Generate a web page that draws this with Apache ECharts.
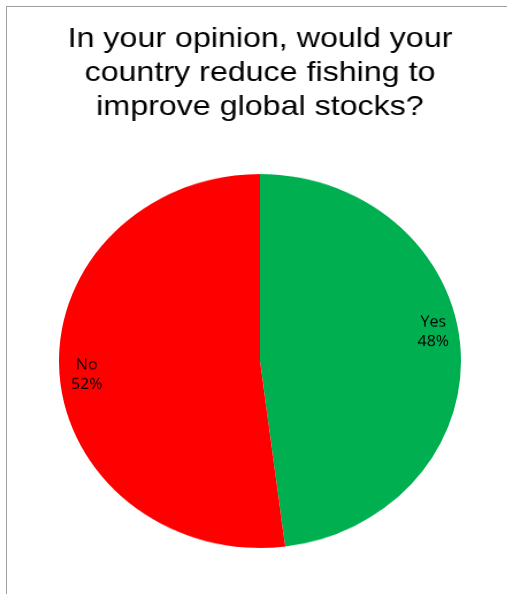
<!DOCTYPE html>
<html>
<head>
<meta charset="utf-8">
<script src="https://cdn.jsdelivr.net/npm/echarts@6/dist/echarts.min.js"></script>
<style>
  html, body { margin: 0; padding: 0; background: #fff; }
  #wrap { position: relative; width: 507px; height: 594px; overflow: hidden; }
  #frame { position: absolute; left: 6px; top: 6px; width: 510px; height: 600px; border-left: 1px solid #a0a0a0; border-top: 1px solid #a0a0a0; box-sizing: border-box; }
  #titleChart { position: absolute; left: 0; top: 0; width: 520px; height: 150px; transform: scaleX(1.15); transform-origin: 260px 0; }
  #pieChart { position: absolute; left: 59px; top: 160px; width: 402px; height: 402px; transform: scaleY(0.93); transform-origin: 50% 50%; }
</style>
</head>
<body>
<div id="wrap">
  <div id="frame"></div>
  <div id="titleChart"></div>
  <div id="pieChart"></div>
</div>
<script>
const titleText = "In your opinion, would your\ncountry reduce fishing to\nimprove global stocks?";
const categories = ["Yes", "No"];
const values = [48, 52];
const colors = ["#00B050", "#FF0000"];

const titleChart = echarts.init(document.getElementById('titleChart'), null, { renderer: 'canvas' });
titleChart.setOption({
  backgroundColor: 'transparent',
  animation: false,
  title: {
    text: titleText,
    left: 'center',
    top: 17,
    textStyle: {
      fontFamily: 'Liberation Sans, Arial, sans-serif',
      fontSize: 28,
      fontWeight: 'normal',
      color: '#000',
      lineHeight: 34
    }
  }
});

const pieChart = echarts.init(document.getElementById('pieChart'), null, { renderer: 'canvas' });
const labelOffsets = [[70, -25], [-70, 8]];
pieChart.setOption({
  animation: false,
  series: [{
    type: 'pie',
    center: ['50%', '50%'],
    radius: '100%',
    startAngle: 90,
    clockwise: true,
    data: categories.map((c, i) => ({ name: c, value: values[i], itemStyle: { color: colors[i] } })),
    itemStyle: { borderWidth: 0 },
    label: {
      show: true,
      position: 'inside',
      formatter: p => p.name + '\n' + Math.round(p.percent) + '%',
      fontFamily: 'Open Sans, sans-serif',
      fontSize: 16,
      lineHeight: 21,
      color: '#000',
      align: 'center'
    },
    labelLine: { show: false },
    labelLayout: function (params) {
      const o = labelOffsets[params.dataIndex];
      return { dx: o[0], dy: o[1] };
    },
    emphasis: { disabled: true }
  }]
});
</script>
</body>
</html>
